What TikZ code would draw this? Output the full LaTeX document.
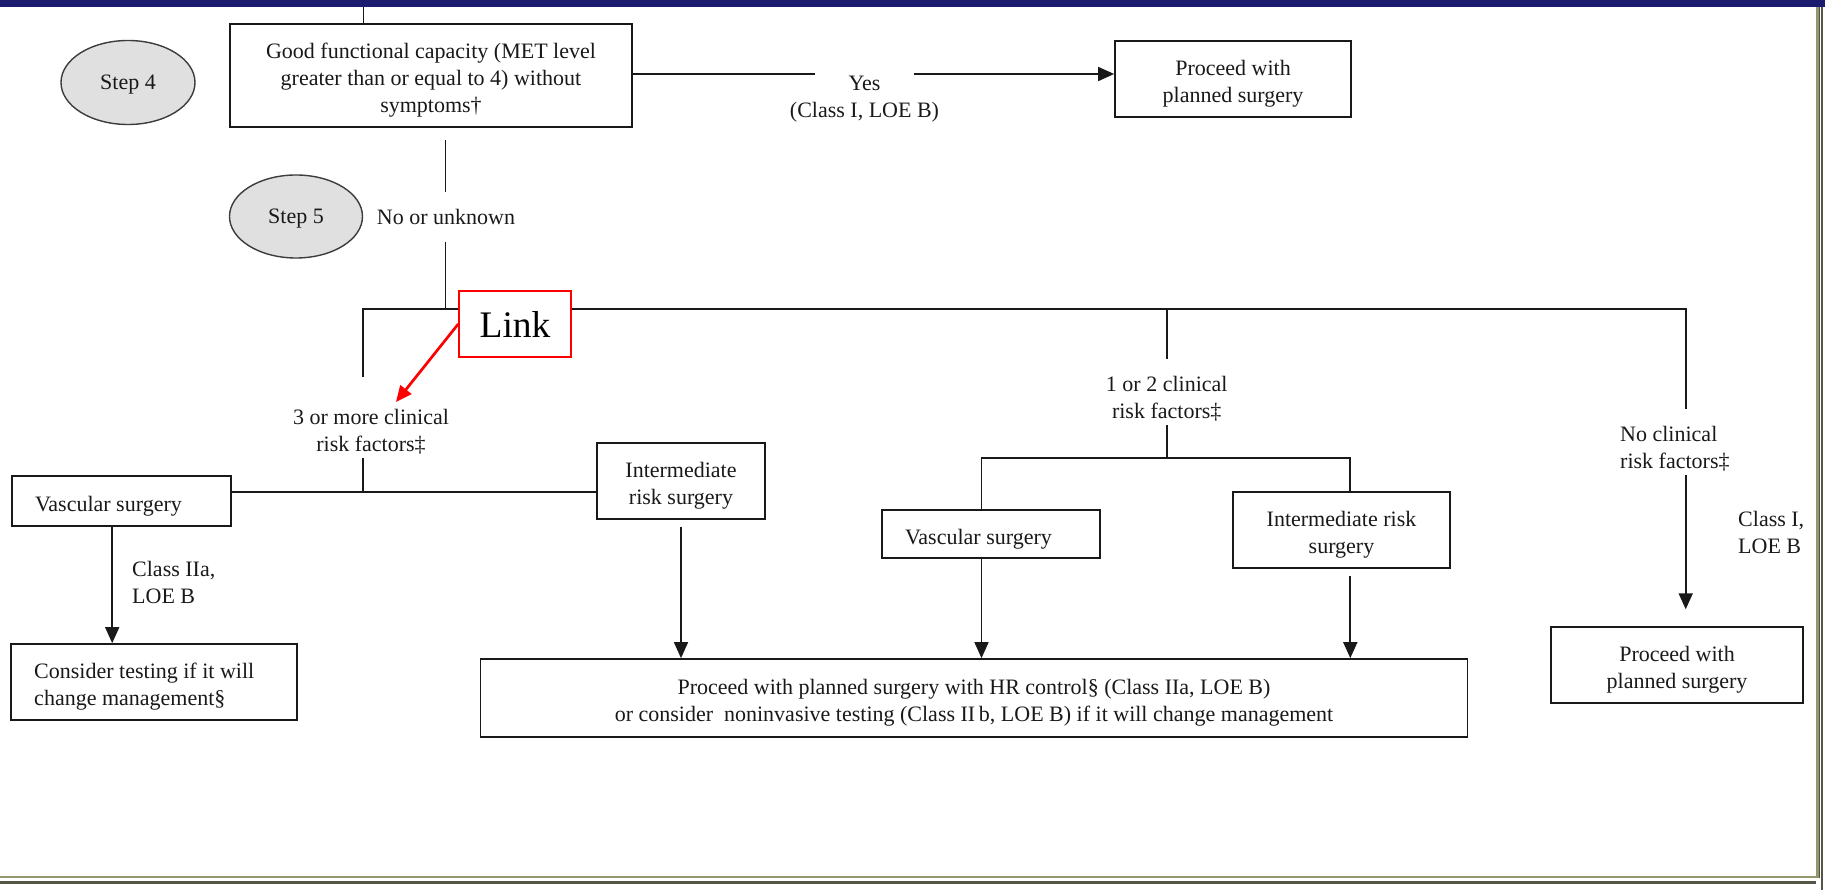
\documentclass[tikz,border=0pt]{standalone}
\usepackage{fontspec}
\setmainfont{Liberation Serif}
\usetikzlibrary{arrows.meta,shapes.geometric}
\definecolor{navy}{RGB}{27,27,112}
\definecolor{frameolive}{RGB}{150,150,108}
\definecolor{framedark}{RGB}{85,85,72}
\definecolor{ink}{RGB}{25,25,25}
\definecolor{stepgray}{RGB}{224,224,224}
% tall invisible strut that lowers boxed text a little
\newcommand{\lowstrut}{\rule{0pt}{25pt}}

\begin{document}
\begin{tikzpicture}[x=1pt,y=-1pt,
  font=\fontsize{22}{27}\selectfont,
  every node/.style={text=ink},
  conn/.style={draw=ink, line width=1.7pt},
  arr/.style={conn, -{Triangle[length=16pt,width=14pt]}},
  cbox/.style={draw=ink, line width=1.7pt, fill=white, align=center, inner sep=0pt},
  lbox/.style={draw=ink, line width=1.7pt, fill=white, align=flush left, inner xsep=23pt, inner ysep=0pt,
    execute at begin node={\lowstrut}},
  stepnode/.style={ellipse, draw=ink!85, line width=1.4pt, fill=stepgray, inner sep=0pt},
  lbl/.style={align=center, inner sep=0pt},
]
\useasboundingbox (0,0) rectangle (1825,890);

% page frame
\fill[navy] (0,0) rectangle (1825,7.5);
\draw[frameolive, line width=2.6pt] (0,877) -- (1817.3,877) -- (1817.3,7.5);
\draw[framedark, line width=0.9pt] (1819,7.5) -- (1819,878);
\draw[framedark, line width=2.4pt] (0,882.4) -- (1816,882.4);
\draw[framedark, line width=2.4pt] (1822.2,7.5) -- (1822.2,890);

% step 4
\node[cbox, minimum width=402pt, minimum height=103pt] (cap) at (431,75.5)
  {\lowstrut Good functional capacity (MET level\\greater than or equal to 4) without\\symptoms†};
\node[cbox, minimum width=236pt, minimum height=76pt] (go1) at (1233,79)
  {\lowstrut Proceed with\\planned surgery};
\node[stepnode, minimum width=134pt, minimum height=84pt] (s4) at (128,82.5) {\rule{0pt}{19pt}Step 4};
\node[lbl] (yes) at (864.5,99.5) {Yes\\(Class I, LOE B)};

% step 5
\node[stepnode, minimum width=133pt, minimum height=83pt] (s5) at (296,216.5) {\rule{0pt}{19pt}Step 5};
\node[lbl] (nou) at (446,217) {No or unknown};

\node[draw=red, line width=1.5pt, fill=white, minimum width=112pt, minimum height=66pt,
  inner sep=0pt, font=\fontsize{37.5}{40}\selectfont, text=black] (link) at (515,324) {Link};

% risk factor branches
\node[lbl] (three) at (371,431.5) {3 or more clinical\\risk factors‡};
\node[lbl] (onetwo) at (1166.7,398.7) {1 or 2 clinical\\risk factors‡};
\node[lbl, align=left, anchor=west] (none) at (1620,448.5) {No clinical\\risk factors‡};
\node[lbl, align=left, anchor=west] (c2a) at (132,582) {Class IIa,\\LOE B};
\node[lbl, align=left, anchor=west] (c1) at (1738,532.2) {Class I,\\LOE B};

\node[lbox, text width=173pt, minimum height=50pt] (vl) at (121.5,501) {Vascular surgery};
\node[cbox, minimum width=168pt, minimum height=76pt] (il) at (681,481) {\lowstrut Intermediate\\risk surgery};
\node[lbox, text width=239.5pt, minimum height=76pt] (ct) at (154,682)
  {Consider testing if it will\\change management§};
\node[cbox, minimum width=987pt, minimum height=78pt] (hr) at (974,698)
  {\lowstrut Proceed with planned surgery with HR control§ (Class IIa, LOE B)\\or consider\ \ noninvasive testing (Class II\,b, LOE B) if it will change management};
\node[lbox, text width=172pt, minimum height=48pt] (vm) at (991,534) {Vascular surgery};
\node[cbox, minimum width=217pt, minimum height=76pt] (im) at (1341.5,530) {\lowstrut Intermediate risk\\surgery};
\node[cbox, minimum width=252pt, minimum height=76pt] (go2) at (1677,665) {\lowstrut Proceed with\\planned surgery};

% junction points
\coordinate (top0) at (363.4,7.5);
\coordinate (yesL) at (815,74);
\coordinate (yesR) at (914,74);
\coordinate (d1) at (445.5,140);
\coordinate (d2) at (445.5,192);
\coordinate (d3) at (445.5,242);
\coordinate (bus0) at (445.5,309.3);
\coordinate (busL) at (363.3,309.3);
\coordinate (busM) at (1166.7,309.3);
\coordinate (busR) at (1685.7,309.3);
\coordinate (leftEnd) at (363.3,376.7);
\coordinate (midEnd) at (1166.7,359.3);
\coordinate (rightEnd) at (1685.7,409.3);
\coordinate (threeLow) at (363.3,458.3);
\coordinate (bus2) at (363.3,492.3);
\coordinate (twoLow) at (1166.7,425);
\coordinate (bus3) at (1166.7,458.3);
\coordinate (xa) at (112.2,0);
\coordinate (xb) at (981.5,0);
\coordinate (xc) at (1350.3,0);
\coordinate (noneLow) at (1685.7,475);
\coordinate (noneTip) at (1685.7,609.3);
\coordinate (redTip) at (396,402);

% connectors
\draw[conn] (top0) -- (top0 |- cap.north);
\draw[conn] (cap.east |- yesL) -- (yesL);
\draw[arr] (yesR) -- (yesR -| go1.west);
\draw[conn] (d1) -- (d2);
\draw[conn] (d3) -- (bus0);
\draw[conn] (leftEnd) -- (busL) -- (busL -| link.west);
\draw[conn] (busL -| link.east) -- (busR) -- (rightEnd);
\draw[conn] (busM) -- (midEnd);
\draw[conn] (threeLow) -- (bus2);
\draw[conn] (vl.east |- bus2) -- (il.west |- bus2);
\draw[arr] (vl.south -| xa) -- (ct.north -| xa);
\draw[arr, shorten <=7pt] (il.south) -- (il.south |- hr.north);
\draw[conn] (twoLow) -- (bus3);
\draw[conn] (vm.north -| xb) -- (xb |- bus3) -- (xc |- bus3) -- (im.north -| xc);
\draw[arr] (vm.south -| xb) -- (hr.north -| xb);
\draw[arr, shorten <=7pt] (im.south -| xc) -- (hr.north -| xc);
\draw[arr] (noneLow) -- (noneTip);
\draw[red, line width=2.7pt, -{Triangle[length=16pt,width=14pt]}] (link.west) -- (redTip);
\end{tikzpicture}
\end{document}
